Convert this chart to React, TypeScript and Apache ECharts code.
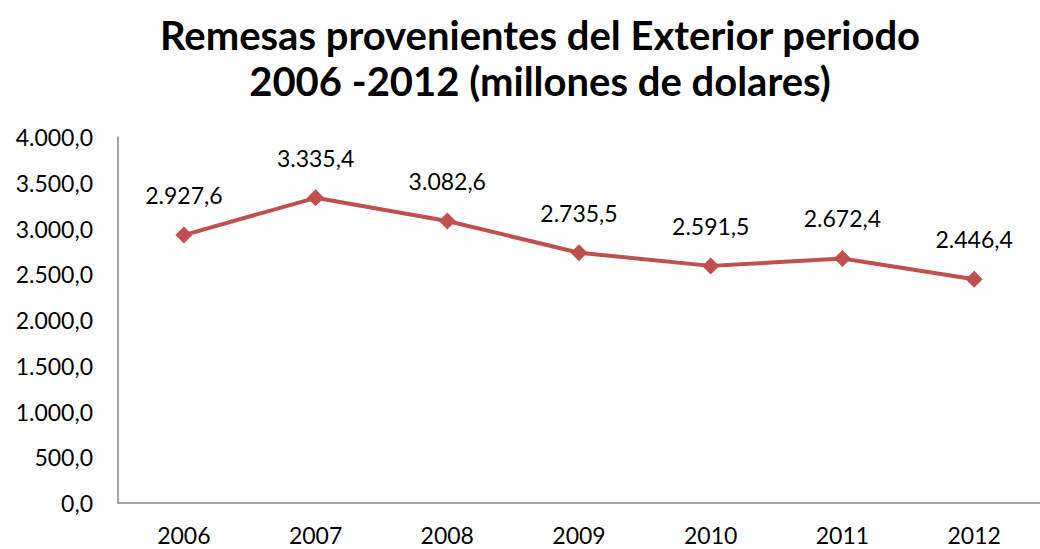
import React, { useEffect, useRef } from "react";
import * as echarts from "echarts";

const years = ["2006", "2007", "2008", "2009", "2010", "2011", "2012"];
const remesas = [2927.6, 3335.4, 3082.6, 2735.5, 2591.5, 2672.4, 2446.4];
const titleText = "Remesas provenientes del Exterior periodo\n2006 -2012 (millones de dolares)";

const fmt = (v: number) => {
  const parts = v.toFixed(1).split(".");
  const int = parts[0].replace(/\B(?=(\d{3})+(?!\d))/g, ".");
  return int + "," + parts[1];
};

export default function App() {
  const ref = useRef<HTMLDivElement>(null);
  useEffect(() => {
    if (!ref.current) return;
    const chart = echarts.init(ref.current, undefined, { renderer: "svg" });
    const font = "Lato, 'Open Sans', sans-serif";
    chart.setOption({
      animation: false,
      backgroundColor: "#ffffff",
      title: {
        text: titleText,
        left: 535,
        textAlign: "center",
        top: 7,
        textStyle: {
          fontFamily: font,
          fontWeight: "bold",
          fontSize: 40,
          lineHeight: 46,
          color: "#000",
        },
      },
      grid: { left: 118, top: 137, bottom: 46, width: 928 },
      xAxis: {
        type: "category",
        data: years,
        axisLine: { lineStyle: { color: "#868686", width: 1.5 } },
        axisTick: { show: false },
        axisLabel: { fontFamily: font, fontSize: 23, color: "#000", margin: 20 },
      },
      yAxis: {
        type: "value",
        min: 0,
        max: 4000,
        interval: 500,
        axisLine: { show: true, lineStyle: { color: "#868686", width: 1.5 } },
        axisTick: { show: false },
        splitLine: { show: false },
        axisLabel: {
          fontFamily: font,
          fontSize: 23,
          color: "#000",
          margin: 25,
          formatter: (v: number) => fmt(v),
        },
      },
      series: [
        {
          type: "line",
          data: remesas,
          symbol: "diamond",
          symbolSize: 17,
          lineStyle: { color: "#C0504D", width: 4 },
          itemStyle: { color: "#C0504D" },
          label: {
            show: true,
            position: "top",
            distance: 20,
            fontFamily: font,
            fontSize: 23,
            color: "#000",
            formatter: (p: any) => fmt(p.value),
          },
        },
      ],
    });
    return () => chart.dispose();
  }, []);
  return <div ref={ref} style={{ width: 1040, height: 549, position: "absolute", left: 0, top: 0 }} />;
}
